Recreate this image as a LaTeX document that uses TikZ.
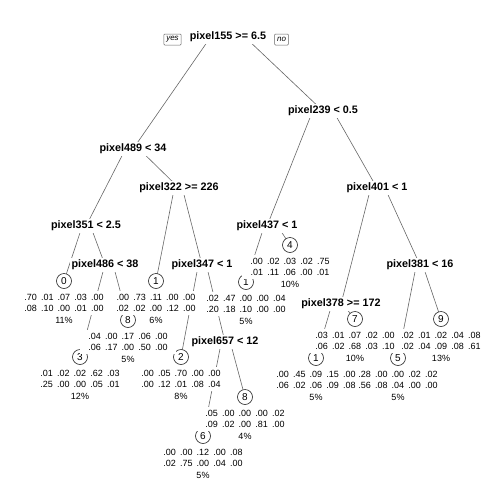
\documentclass[tikz,border=0pt]{standalone}
\usepackage{fontspec}
\setmainfont{Liberation Sans}
\usetikzlibrary{calc}
\pgfdeclarelayer{background}
\pgfdeclarelayer{boxes}
\pgfdeclarelayer{front}
\pgfsetlayers{background,main,boxes,front}

\tikzset{
  split/.style={fill=white, inner xsep=2pt, inner ysep=1.5pt,
    font=\bfseries\fontsize{10.8}{12}\selectfont},
  leaf/.style={circle, draw=black!85, line width=0.6pt, fill=white,
    inner sep=0pt, minimum size=15pt, font=\fontsize{10}{12}\selectfont},
  probs/.style={inner xsep=2pt, inner ysep=0pt, minimum height=12.5pt,
    font=\fontsize{9}{11}\selectfont},
  branch/.style={draw=black!60, line width=0.6pt},
  answer/.style={draw=black!60, rounded corners=1pt, line width=0.5pt,
    inner xsep=2.5pt, inner ysep=1.5pt, minimum height=11pt,
    font=\itshape\fontsize{8}{9}\selectfont}
}

% five class probabilities in one row
\newcommand\gp{\hspace{4.2pt}}
\newcommand\probrow[5]{#1\gp#2\gp#3\gp#4\gp#5}
% white ground under one text row, wider than the text itself
\newcommand\rowground[1]{%
  \begin{pgfonlayer}{boxes}
    \fill[white] ($(#1.south west)+(-6,0)$) rectangle ($(#1.north east)+(6,0)$);
  \end{pgfonlayer}}
% leaf: name, x, y, class, first row, second row, share of observations
\newcommand\leafat[7]{%
  \node[leaf] (#1) at (#2,#3) {#4};
  \begin{pgfonlayer}{front}
    \node[probs] (#1-a) at (#2,#3+16) {#5};
    \node[probs] (#1-b) at (#2,#3+27.5) {#6};
    \node[probs] (#1-c) at (#2,#3+39) {#7};
  \end{pgfonlayer}
  \rowground{#1-a}\rowground{#1-b}\rowground{#1-c}
}

\begin{document}
\begin{tikzpicture}[x=1pt,y=-1pt]
\useasboundingbox (0,0) rectangle (504,504);

% split conditions
\node[split] (n155) at (228,37)  {pixel155 >= 6.5};
\node[split] (n239) at (323,111) {pixel239 < 0.5};
\node[split] (n489) at (133,149) {pixel489 < 34};
\node[split] (n322) at (179,188) {pixel322 >= 226};
\node[split] (n401) at (377,188) {pixel401 < 1};
\node[split] (n351) at (86,226)  {pixel351 < 2.5};
\node[split] (n437) at (267,226) {pixel437 < 1};
\node[split] (n486) at (105,265) {pixel486 < 38};
\node[split] (n347) at (202,265) {pixel347 < 1};
\node[split] (n381) at (420,265) {pixel381 < 16};
\node[split] (n378) at (341,304) {pixel378 >= 172};
\node[split] (n657) at (225,342) {pixel657 < 12};

\node[answer] (yes) at (172.5,39.5) {yes};
\node[answer] (no)  at (281.5,39.5) {no};

% leaves with their class probabilities and share of observations
\leafat{L0}{64}{281}{0}{\probrow{.70}{.01}{.07}{.03}{.00}}{\probrow{.08}{.10}{.00}{.01}{.00}}{11\%}
\leafat{L3}{80}{357}{3}{\probrow{.01}{.02}{.02}{.62}{.03}}{\probrow{.25}{.00}{.00}{.05}{.01}}{12\%}
\leafat{L8a}{128}{320}{8}{\probrow{.04}{.00}{.17}{.06}{.00}}{\probrow{.06}{.17}{.00}{.50}{.00}}{5\%}
\leafat{L1a}{156}{281}{1}{\probrow{.00}{.73}{.11}{.00}{.00}}{\probrow{.02}{.02}{.00}{.12}{.00}}{6\%}
\leafat{L2}{181}{357}{2}{\probrow{.00}{.05}{.70}{.00}{.00}}{\probrow{.00}{.12}{.01}{.08}{.04}}{8\%}
\leafat{L6}{203}{436}{6}{\probrow{.00}{.00}{.12}{.00}{.08}}{\probrow{.02}{.75}{.00}{.04}{.00}}{5\%}
\leafat{L8b}{245}{397}{8}{\probrow{.05}{.00}{.00}{.00}{.02}}{\probrow{.09}{.02}{.00}{.81}{.00}}{4\%}
\leafat{L1b}{246}{282}{1}{\probrow{.02}{.47}{.00}{.00}{.04}}{\probrow{.20}{.18}{.10}{.00}{.00}}{5\%}
\leafat{L4}{290}{245}{4}{\probrow{.00}{.02}{.03}{.02}{.75}}{\probrow{.01}{.11}{.06}{.00}{.01}}{10\%}
\leafat{L1c}{316}{358}{1}{\probrow{.00}{.45}{.09}{.15}{.00}}{\probrow{.06}{.02}{.06}{.09}{.08}}{5\%}
\leafat{L5}{398}{358}{5}{\probrow{.28}{.00}{.00}{.02}{.02}}{\probrow{.56}{.08}{.04}{.00}{.00}}{5\%}
\leafat{L7}{355}{319}{7}{\probrow{.03}{.01}{.07}{.02}{.00}}{\probrow{.06}{.02}{.68}{.03}{.10}}{10\%}
\leafat{L9}{441}{319}{9}{\probrow{.02}{.01}{.02}{.04}{.08}}{\probrow{.02}{.04}{.09}{.08}{.61}}{13\%}

% branches
\begin{pgfonlayer}{background}
\draw[branch] ($(n155.south)+(-22,0)$) -- (n489.center);
\draw[branch] ($(n155.south)+(24,0)$)  -- (n239.center);
\draw[branch] ($(n239.south)+(-13,0)$) -- (n437.center);
\draw[branch] ($(n239.south)+(14,0)$)  -- (n401.center);
\draw[branch] ($(n489.south)+(-11,0)$) -- (n351.center);
\draw[branch] ($(n489.south)+(13,0)$)  -- (n322.center);
\draw[branch] ($(n322.south)+(-6,0)$)  -- (L1a.center);
\draw[branch] ($(n322.south)+(5,0)$)   -- (n347.center);
\draw[branch] ($(n351.south)+(-6,0)$)  -- (L0.center);
\draw[branch] ($(n351.south)+(7,0)$)   -- (n486.center);
\draw[branch] ($(n401.south)+(-8,0)$)  -- (n378.center);
\draw[branch] ($(n401.south)+(11,0)$)  -- (n381.center);
\draw[branch] ($(n437.south)+(-5,0)$)  -- (L1b.center);
\draw[branch] ($(n437.south)+(15,0)$)  -- (L4.center);
\draw[branch] ($(n486.south)+(-2,0)$)  -- (L3.center);
\draw[branch] ($(n486.south)+(10,0)$)  -- (L8a.center);
\draw[branch] ($(n347.south)+(-5,0)$)  -- (L2.center);
\draw[branch] ($(n347.south)+(6,0)$)   -- (n657.center);
\draw[branch] ($(n381.south)+(-5,0)$)  -- (L5.center);
\draw[branch] ($(n381.south)+(5,0)$)   -- (L9.center);
\draw[branch] ($(n378.south)+(-11,0)$) -- (L1c.center);
\draw[branch] ($(n378.south)+(7,0)$)   -- (L7.center);
\draw[branch] ($(n657.south)+(-5,0)$)  -- (L6.center);
\draw[branch] ($(n657.south)+(7,0)$)   -- (L8b.center);
\end{pgfonlayer}
\end{tikzpicture}
\end{document}
